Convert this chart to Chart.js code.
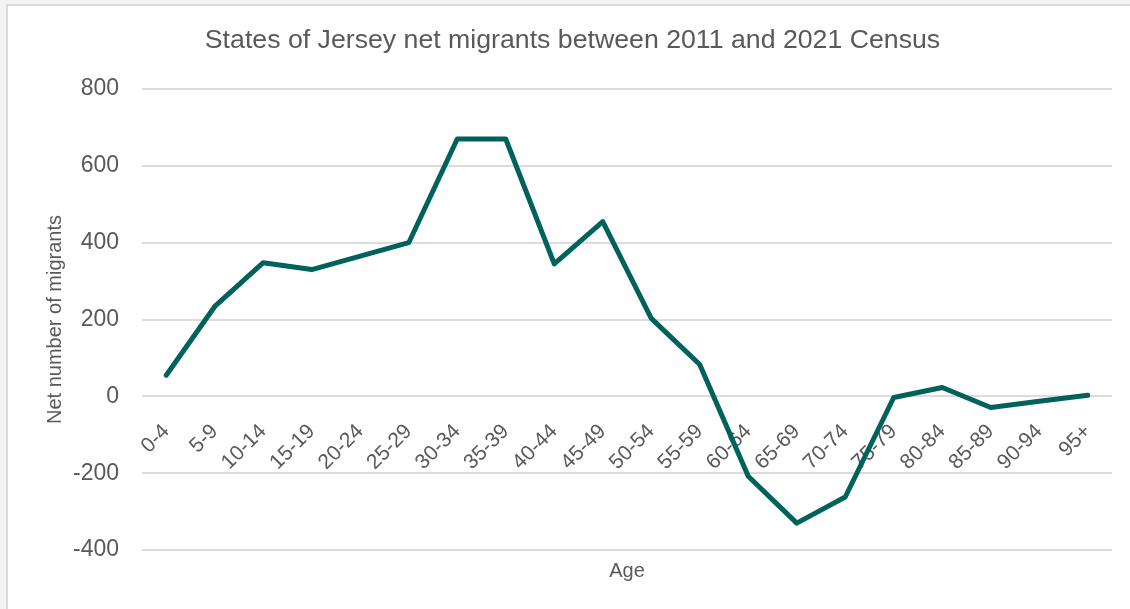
<!DOCTYPE html>
<html>
<head>
<meta charset="utf-8">
<script src="https://cdn.jsdelivr.net/npm/chart.js@4.4.0/dist/chart.umd.min.js"></script>
<style>
  html, body { margin: 0; padding: 0; background: #f3f3f5; }
  #frame {
    position: absolute; left: 6px; top: 4px; width: 1130px; height: 610px;
    background: #fff; border-left: 2px solid #d9d9d9; border-top: 2px solid #d9d9d9;
  }
  #wrap { position: absolute; left: 0; top: 0; width: 1130px; height: 609px; }
</style>
</head>
<body>
<div id="frame"></div>
<div id="wrap"><canvas id="chartArea" width="1130" height="609"></canvas></div>
<script>
var ageGroups = ['0-4','5-9','10-14','15-19','20-24','25-29','30-34','35-39','40-44','45-49',
                 '50-54','55-59','60-64','65-69','70-74','75-79','80-84','85-89','90-94','95+'];
var netMigrants = [55, 234, 348, 330, 365, 400, 670, 670, 345, 455,
                   203, 83, -208, -330, -262, -3, 23, -29, -13, 3];
var yTicks = [-400, -200, 0, 200, 400, 600, 800];

var grey = '#595959';
var fontFamily = "'Liberation Sans', Arial, sans-serif";

var config = {
    type: 'line',
    data: {
        labels: ageGroups,
        datasets: [{
            label: 'Net migrants',
            data: netMigrants,
            borderColor: '#00625a',
            borderWidth: 5,
            pointRadius: 0,
            tension: 0,
            borderCapStyle: 'round',
            borderJoinStyle: 'round',
            xAxisID: 'x',
            yAxisID: 'y'
        }]
    },
    options: {
        responsive: false,
        animation: false,
        events: [],
        layout: { padding: { left: 15, right: 0, top: 0, bottom: 0 } },
        plugins: {
            legend: { display: false },
            tooltip: { enabled: false },
            title: {
                display: true,
                text: 'States of Jersey net migrants between 2011 and 2021 Census',
                color: grey,
                font: { family: fontFamily, size: 26.7, weight: 'normal' },
                padding: { top: 25, bottom: 32 }
            }
        },
        scales: {
            x: {
                type: 'category',
                position: { y: 0 },
                offset: true,
                grid: { display: false },
                border: { display: false },
                ticks: {
                    color: grey,
                    font: { family: fontFamily, size: 21 },
                    minRotation: 45,
                    maxRotation: 45,
                    autoSkip: false,
                    padding: 15
                }
            },
            x2: {
                type: 'category',
                position: 'bottom',
                labels: ageGroups,
                offset: true,
                grid: { display: false },
                border: { display: false },
                ticks: { display: false },
                title: {
                    display: true,
                    text: 'Age',
                    color: grey,
                    font: { family: fontFamily, size: 20 },
                    padding: { top: 1, bottom: 26 }
                }
            },
            y: {
                min: -400,
                max: 800,
                afterBuildTicks: function(scale) {
                    scale.ticks = yTicks.map(function(v) { return { value: v }; });
                },
                afterFit: function(scale) { scale.width = 127; },
                grid: { color: '#dcdcdc', lineWidth: 2, drawTicks: false },
                border: { display: false },
                ticks: {
                    color: grey,
                    font: { family: fontFamily, size: 23 },
                    padding: 23
                },
                title: {
                    display: true,
                    text: 'Net number of migrants',
                    color: grey,
                    font: { family: fontFamily, size: 20 },
                    padding: { top: 28, bottom: 0 }
                }
            },
            yRight: {
                position: 'right',
                min: -400,
                max: 800,
                grid: { display: false },
                border: { display: false },
                ticks: { display: false },
                afterFit: function(scale) { scale.width = 18; }
            }
        }
    }
};

var ctx = document.getElementById('chartArea').getContext('2d');
window.myLine = new Chart(ctx, config);
</script>
</body>
</html>
